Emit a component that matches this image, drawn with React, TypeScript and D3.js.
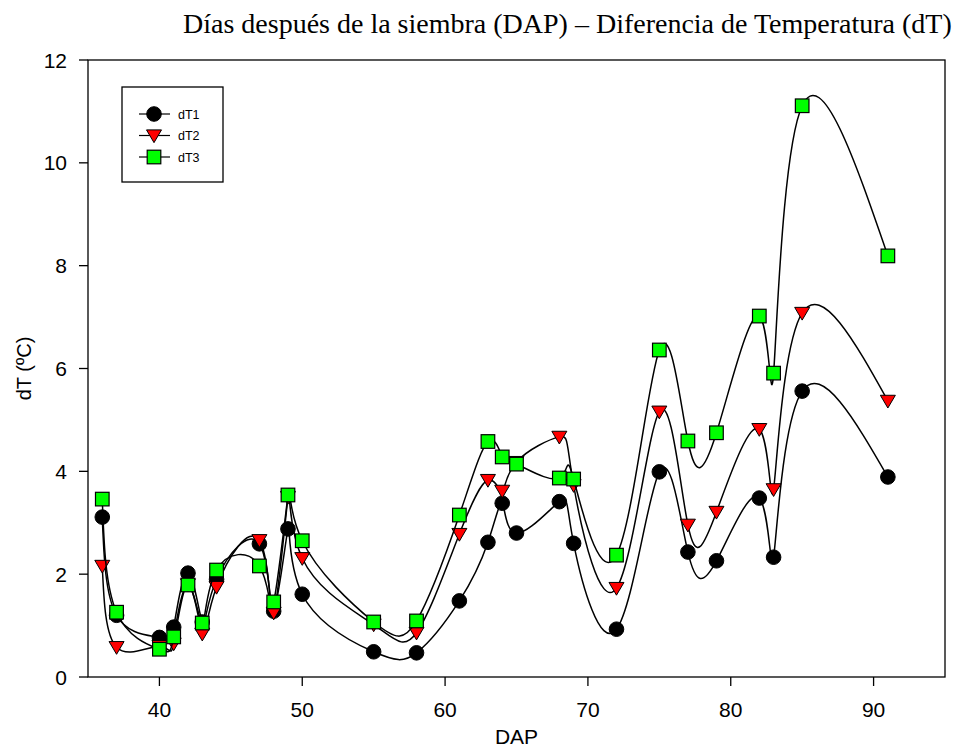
import React from "react";
import * as d3 from "d3";

// Days after sowing
const dap = [36, 37, 40, 41, 42, 43, 44, 47, 48, 49, 50, 55, 58, 61, 63, 64, 65, 68, 69, 72, 75, 77, 79, 82, 83, 85, 91];

// Temperature differences (ºC)
const dT1 = [3.11, 1.2, 0.77, 0.97, 2.02, 1.07, 1.9, 2.59, 1.28, 2.88, 1.61, 0.49, 0.47, 1.48, 2.62, 3.38, 2.8, 3.41, 2.6, 0.93, 3.99, 2.43, 2.26, 3.48, 2.33, 5.56, 3.89];
const dT2 = [2.16, 0.58, 0.6, 0.65, 1.8, 0.84, 1.75, 2.66, 1.25, 3.5, 2.31, 1.02, 0.86, 2.78, 3.83, 3.62, 4.18, 4.67, 3.73, 1.73, 5.16, 2.96, 3.21, 4.82, 3.65, 7.08, 5.37];
const dT3 = [3.46, 1.26, 0.54, 0.78, 1.79, 1.05, 2.08, 2.16, 1.46, 3.54, 2.65, 1.07, 1.09, 3.15, 4.58, 4.28, 4.14, 3.87, 3.85, 2.37, 6.36, 4.59, 4.75, 7.02, 5.91, 11.11, 8.19];

const seriesNames = ["dT1", "dT2", "dT3"];
const xTicks = [40, 50, 60, 70, 80, 90];
const yTicks = [0, 2, 4, 6, 8, 10, 12];

const W = 960;
const H = 747;
const plot = { left: 88, right: 945, top: 60, bottom: 677 };

const x = d3.scaleLinear().domain([35, 95]).range([plot.left, plot.right]);
const y = d3.scaleLinear().domain([0, 12]).range([plot.bottom, plot.top]);

const line = d3
  .line<number>()
  .x((_, i) => x(dap[i]))
  .y((v) => y(v))
  .curve(d3.curveNatural);

const trianglePath = (cx: number, cy: number, s = 7.5) =>
  `M${cx - s},${cy - s * 0.75}L${cx + s},${cy - s * 0.75}L${cx},${cy + s * 0.95}Z`;

function Marker({ kind, cx, cy }: { kind: number; cx: number; cy: number }) {
  if (kind === 0) return <circle cx={cx} cy={cy} r={7.3} fill="#000" stroke="#000" strokeWidth={1} />;
  if (kind === 1) return <path d={trianglePath(cx, cy)} fill="#ff0000" stroke="#000" strokeWidth={1} />;
  return <rect x={cx - 6.8} y={cy - 6.8} width={13.6} height={13.6} fill="#00ff00" stroke="#000" strokeWidth={1.2} />;
}

export default function App() {
  const series = [dT1, dT2, dT3];
  const font = "Liberation Sans, Arial, sans-serif";
  return (
    <svg width={W} height={H} style={{ position: "absolute", left: 0, top: 0, background: "#fff" }}>
      <rect width={W} height={H} fill="#fff" />
      <text x={183} y={33} fontFamily="Liberation Serif, Times New Roman, serif" fontSize={28} fill="#000">
        Días después de la siembra (DAP) – Diferencia de Temperatura (dT)
      </text>

      {/* frame */}
      <rect
        x={plot.left}
        y={plot.top}
        width={plot.right - plot.left}
        height={plot.bottom - plot.top}
        fill="none"
        stroke="#000"
        strokeWidth={1.3}
      />

      {/* y axis */}
      {yTicks.map((t) => (
        <g key={"y" + t}>
          <line x1={plot.left - 9} x2={plot.left} y1={y(t)} y2={y(t)} stroke="#000" strokeWidth={1.3} />
          <text x={67} y={y(t) + 7.5} textAnchor="end" fontFamily={font} fontSize={21} fill="#000">
            {t}
          </text>
        </g>
      ))}
      <text
        transform={`translate(31,${(plot.top + plot.bottom) / 2}) rotate(-90)`}
        textAnchor="middle"
        fontFamily={font}
        fontSize={20}
        fill="#000"
      >
        dT (ºC)
      </text>

      {/* x axis */}
      {xTicks.map((t) => (
        <g key={"x" + t}>
          <line x1={x(t)} x2={x(t)} y1={plot.bottom} y2={plot.bottom + 9} stroke="#000" strokeWidth={1.3} />
          <text x={x(t)} y={717} textAnchor="middle" fontFamily={font} fontSize={21} fill="#000">
            {t}
          </text>
        </g>
      ))}
      <text x={(plot.left + plot.right) / 2} y={744} textAnchor="middle" fontFamily={font} fontSize={21} fill="#000">
        DAP
      </text>

      {/* series */}
      {series.map((vals, si) => (
        <g key={seriesNames[si]}>
          <path d={line(vals) || ""} fill="none" stroke="#000" strokeWidth={1.5} />
          {vals.map((v, i) => (
            <Marker key={i} kind={si} cx={x(dap[i])} cy={y(v)} />
          ))}
        </g>
      ))}

      {/* legend */}
      <rect x={122} y={87} width={101} height={95} fill="#fff" stroke="#000" strokeWidth={1.3} />
      {seriesNames.map((name, i) => {
        const ly = 114 + i * 21.5;
        return (
          <g key={name}>
            <line x1={139} x2={170} y1={ly} y2={ly} stroke="#000" strokeWidth={1.2} />
            <Marker kind={i} cx={154} cy={ly} />
            <text x={178} y={ly + 4.5} fontFamily={font} fontSize={12.5} fill="#000">
              {name}
            </text>
          </g>
        );
      })}
    </svg>
  );
}
